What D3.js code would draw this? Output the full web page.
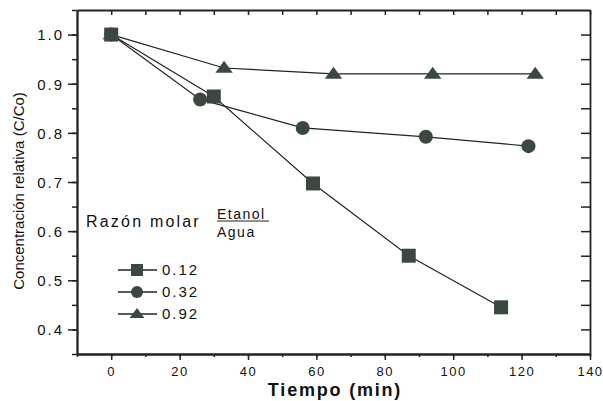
<!DOCTYPE html>
<html>
<head>
<meta charset="utf-8">
<script src="https://cdn.jsdelivr.net/npm/d3@7"></script>
<style>
  body { margin: 0; background: #fff; }
  svg { display: block; }
  text { font-family: "Liberation Sans", Arial, sans-serif; fill: #111; }
</style>
</head>
<body>
<div id="chart"></div>
<script>
// datos
const tiempo012 = [0, 30, 59, 87, 114];
const conc012   = [1.0, 0.874, 0.697, 0.550, 0.445];
const tiempo032 = [0, 26, 56, 92, 122];
const conc032   = [1.0, 0.868, 0.810, 0.792, 0.773];
const tiempo092 = [0, 33, 65, 94, 124];
const conc092   = [1.0, 0.932, 0.920, 0.920, 0.920];
const series = [
  { name: "0.12", shape: "square",   t: tiempo012, c: conc012 },
  { name: "0.32", shape: "circle",   t: tiempo032, c: conc032 },
  { name: "0.92", shape: "triangle", t: tiempo092, c: conc092 }
];
const xTicks = [0, 20, 40, 60, 80, 100, 120, 140];
const yTicks = [0.4, 0.5, 0.6, 0.7, 0.8, 0.9, 1.0];

const width = 603, height = 401;
const margin = { left: 77, right: 13, top: 10, bottom: 47 };
const markColor = "#3b4840";

const svg = d3.select("#chart").append("svg")
  .attr("width", width).attr("height", height);

const x = d3.scaleLinear().domain([-10, 140]).range([margin.left, width - margin.right]);
const y = d3.scaleLinear().domain([0.35, 1.05]).range([height - margin.bottom, margin.top]);

const minorX = d3.range(-10, 141, 10);
const minorY = d3.range(0.35, 1.051, 0.05).map(v => +v.toFixed(2));

// ejes: izquierda y abajo hacia afuera, arriba y derecha hacia adentro
svg.append("g").attr("transform", `translate(${margin.left},0)`)
  .call(d3.axisLeft(y).tickValues(minorY).tickSize(5).tickFormat("").tickSizeOuter(0));
const gLeft = svg.append("g").attr("transform", `translate(${margin.left},0)`)
  .call(d3.axisLeft(y).tickValues(yTicks).tickSize(9).tickPadding(4).tickFormat(d3.format(".1f")).tickSizeOuter(0));
gLeft.selectAll("text").style("font-size", "15px").style("letter-spacing", "2px").attr("dy", "0.36em");

svg.append("g").attr("transform", `translate(0,${y.range()[0]})`)
  .call(d3.axisBottom(x).tickValues(minorX).tickSize(3).tickFormat("").tickSizeOuter(0));
const gBottom = svg.append("g").attr("transform", `translate(0,${y.range()[0]})`)
  .call(d3.axisBottom(x).tickValues(xTicks).tickSize(6).tickPadding(7).tickSizeOuter(0));
gBottom.selectAll("text").style("font-size", "13px").style("letter-spacing", "1.5px");

svg.append("g").attr("transform", `translate(0,${margin.top})`)
  .call(d3.axisTop(x).tickValues(minorX.slice(1)).tickSize(-5).tickFormat("").tickSizeOuter(0));
svg.append("g").attr("transform", `translate(${x.range()[1]},0)`)
  .call(d3.axisRight(y).tickValues(minorY.slice(1, -1)).tickSize(-9).tickFormat("").tickSizeOuter(0));

svg.selectAll(".domain").attr("stroke", "#222").attr("stroke-width", 1.8);
svg.selectAll(".tick line").attr("stroke", "#222").attr("stroke-width", 1.5);

// títulos de ejes
svg.append("text")
  .attr("transform", "translate(24,191) rotate(-90)")
  .attr("text-anchor", "middle")
  .style("font-size", "15px")
  .text("Concentración relativa (C/Co)");

svg.append("text")
  .attr("x", 335).attr("y", 396)
  .attr("text-anchor", "middle")
  .style("font-size", "18px").style("font-weight", "bold").style("letter-spacing", "1.8px")
  .text("Tiempo (min)");

// marcadores
function drawMark(g, shape, cx, cy, s) {
  if (shape === "square") {
    g.append("rect").attr("x", cx - s / 2).attr("y", cy - s / 2)
      .attr("width", s).attr("height", s).attr("fill", markColor);
  } else if (shape === "circle") {
    g.append("circle").attr("cx", cx).attr("cy", cy).attr("r", s / 2).attr("fill", markColor);
  } else {
    const h = s * 0.85;
    g.append("path")
      .attr("d", `M${cx},${cy - h * 0.6}L${cx + s * 0.62},${cy + h * 0.4}L${cx - s * 0.62},${cy + h * 0.4}Z`)
      .attr("fill", markColor);
  }
}

const line = d3.line().x(d => x(d[0])).y(d => y(d[1]));

series.forEach(s => {
  const pts = s.t.map((t, i) => [t, s.c[i]]);
  svg.append("path").datum(pts)
    .attr("d", line).attr("fill", "none").attr("stroke", "#222").attr("stroke-width", 1.2);
});
series.slice().reverse().forEach(s => {
  const g = svg.append("g");
  s.t.forEach((t, i) => drawMark(g, s.shape, x(t), y(s.c[i]), 14));
});

// leyenda
svg.append("text").attr("x", 86).attr("y", 227)
  .style("font-size", "16px").style("letter-spacing", "2.2px").text("Razón molar");
svg.append("text").attr("x", 217).attr("y", 219)
  .style("font-size", "14px").style("letter-spacing", "1.5px").text("Etanol");
svg.append("line").attr("x1", 217).attr("x2", 269).attr("y1", 221).attr("y2", 221)
  .attr("stroke", "#222").attr("stroke-width", 1.2);
svg.append("text").attr("x", 217).attr("y", 237)
  .style("font-size", "14px").style("letter-spacing", "1.5px").text("Agua");

series.forEach((s, i) => {
  const cy = 270 + i * 22;
  const g = svg.append("g");
  g.append("line").attr("x1", 118).attr("x2", 157).attr("y1", cy).attr("y2", cy)
    .attr("stroke", "#222").attr("stroke-width", 1.3);
  drawMark(g, s.shape, 137, cy, 12);
  g.append("text").attr("x", 162).attr("y", cy).attr("dy", "0.36em")
    .style("font-size", "15px").style("letter-spacing", "2px").text(s.name);
});
</script>
</body>
</html>
